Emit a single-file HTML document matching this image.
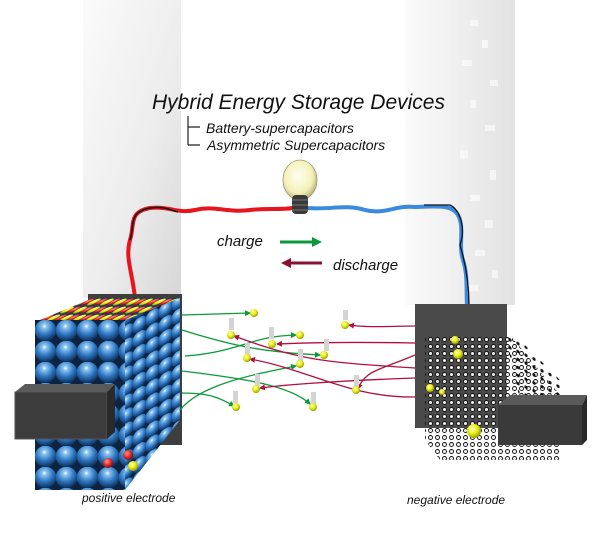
<!DOCTYPE html>
<html><head><meta charset="utf-8"><style>html,body{margin:0;padding:0;background:#fff}svg{display:block}</style></head>
<body>
<svg width="600" height="545" viewBox="0 0 600 545" xmlns="http://www.w3.org/2000/svg" font-family="Liberation Sans, sans-serif">
<defs>
<linearGradient id="lp" x1="0" y1="0" x2="1" y2="1"><stop offset="0" stop-color="#fbfbfb"/><stop offset="0.6" stop-color="#ececec"/><stop offset="1" stop-color="#d6d6d6"/></linearGradient>
<linearGradient id="rp" x1="1" y1="0" x2="0" y2="0"><stop offset="0" stop-color="#e2e2e2"/><stop offset="1" stop-color="#fbfbfb"/></linearGradient>
<radialGradient id="sph" cx="0.45" cy="0.3" r="0.7"><stop offset="0" stop-color="#fff"/><stop offset="0.15" stop-color="#8cc4f0"/><stop offset="0.55" stop-color="#2f78c4"/><stop offset="1" stop-color="#0b2c55"/></radialGradient>
<radialGradient id="yb" cx="0.4" cy="0.35" r="0.7"><stop offset="0" stop-color="#ffffc0"/><stop offset="0.5" stop-color="#e6ee10"/><stop offset="1" stop-color="#8a9000"/></radialGradient>
<radialGradient id="rb" cx="0.4" cy="0.35" r="0.7"><stop offset="0" stop-color="#ff9a90"/><stop offset="0.6" stop-color="#d82020"/><stop offset="1" stop-color="#701010"/></radialGradient>
<radialGradient id="bulb" cx="0.45" cy="0.4" r="0.6"><stop offset="0" stop-color="#fffff0"/><stop offset="0.7" stop-color="#f4f0b8"/><stop offset="1" stop-color="#b8b480"/></radialGradient>
<pattern id="front" x="35" y="320" width="21" height="21" patternUnits="userSpaceOnUse"><rect width="21" height="21" fill="#0d2340"/><circle cx="10.5" cy="10.5" r="10.8" fill="url(#sph)"/></pattern>
<pattern id="side" x="120" y="300" width="13" height="14" patternUnits="userSpaceOnUse" patternTransform="skewY(-30)"><rect width="13" height="14" fill="#0d2340"/><circle cx="6.5" cy="7" r="7.5" fill="url(#sph)"/></pattern>
<pattern id="top" x="35" y="298" width="13" height="8" patternUnits="userSpaceOnUse" patternTransform="skewX(-60)"><rect width="13" height="8" fill="#1a3a66"/><circle cx="3.5" cy="4" r="3.5" fill="url(#rb)"/><circle cx="10" cy="4" r="3.5" fill="url(#yb)"/></pattern>
<pattern id="dots" x="0" y="0" width="7" height="7" patternUnits="userSpaceOnUse"><circle cx="3.5" cy="3.5" r="2" fill="#eee" stroke="#111" stroke-width="0.9"/></pattern>
<pattern id="dots2" x="2" y="2" width="8" height="8" patternUnits="userSpaceOnUse" patternTransform="skewY(25)"><circle cx="4" cy="4" r="1.6" fill="#111"/></pattern>
<marker id="ag" markerUnits="userSpaceOnUse" markerWidth="6" markerHeight="6" refX="5" refY="3" orient="auto"><path d="M0,0 L6,3 L0,6z" fill="#0a9a3a"/></marker>
<marker id="ar" markerUnits="userSpaceOnUse" markerWidth="6" markerHeight="6" refX="5" refY="3" orient="auto"><path d="M0,0 L6,3 L0,6z" fill="#b01040"/></marker>
</defs>

<rect x="83" y="0" width="98" height="298" fill="url(#lp)"/>
<rect x="405" y="0" width="110" height="305" fill="url(#rp)"/>
<g fill="#fff" opacity="0.6">
<rect x="470" y="20" width="8" height="6"/><rect x="482" y="40" width="6" height="8"/><rect x="462" y="60" width="10" height="6"/><rect x="490" y="80" width="8" height="6"/><rect x="470" y="100" width="6" height="8"/><rect x="485" y="125" width="10" height="6"/><rect x="460" y="150" width="8" height="8"/><rect x="490" y="170" width="6" height="10"/><rect x="470" y="195" width="10" height="6"/><rect x="485" y="220" width="8" height="8"/><rect x="475" y="250" width="10" height="6"/><rect x="492" y="270" width="6" height="8"/><rect x="470" y="285" width="8" height="6"/>
</g>

<text x="152" y="109" font-size="21" font-style="italic" fill="#111">Hybrid Energy Storage Devices</text>
<path d="M188,116 V145 M188,127 H200 M188,145 H200" stroke="#222" stroke-width="1.2" fill="none"/>
<text x="206" y="133" font-size="14" font-style="italic" fill="#111">Battery-supercapacitors</text>
<text x="207" y="150" font-size="14" font-style="italic" fill="#111">Asymmetric Supercapacitors</text>

<path d="M135,298 C132,270 125,258 130,240 C135,225 128,212 150,208 C170,206 178,214 195,210 C215,205 225,213 250,210 C268,208 280,210 293,208" stroke="#e8141e" stroke-width="4" fill="none"/>
<path d="M130,240 C135,225 128,212 150,208 C165,206 170,210 178,212" stroke="#111" stroke-width="1.5" fill="none"/>
<path d="M307,208 C330,210 345,204 365,210 C385,215 395,205 415,207 C440,206 452,205 458,215 C465,228 458,245 463,260 C468,275 466,290 467,306" stroke="#3a8ae0" stroke-width="4" fill="none"/>
<path d="M424,205 L450,205 C460,210 466,228 460,245 C466,265 469,285 469,306" stroke="#111" stroke-width="1.3" fill="none"/>
<ellipse cx="300" cy="180" rx="17" ry="20" fill="url(#bulb)" stroke="#9a9670" stroke-width="0.8"/>
<rect x="292" y="195" width="16" height="19" rx="4" fill="#3a3a3a"/>
<path d="M292,200 H308 M292,205 H308 M292,210 H308" stroke="#777" stroke-width="1"/>

<text x="217" y="246" font-size="15" font-style="italic" fill="#111">charge</text>
<line x1="280" y1="242" x2="314" y2="242" stroke="#0a9a3a" stroke-width="3"/>
<path d="M312,237 L322,242 L312,247z" fill="#0a9a3a"/>
<line x1="322" y1="263" x2="290" y2="263" stroke="#8a1030" stroke-width="3"/>
<path d="M291,258 L281,263 L291,268z" fill="#8a1030"/>
<text x="333" y="270" font-size="15" font-style="italic" fill="#111">discharge</text>

<rect x="88" y="294" width="94" height="151" fill="#3e3e3e"/>
<polygon points="35,322 122,322 180,298 93,298" fill="url(#top)"/>
<polygon points="120,322 180,298 180,420 125,490" fill="url(#side)"/>
<rect x="35" y="320" width="90" height="170" fill="url(#front)"/>
<rect x="15" y="392" width="92" height="47" fill="#3c3c3c" stroke="#555"/>
<polygon points="15,392 25,384 115,384 107,392" fill="#5a5a5a"/>
<polygon points="107,392 115,384 115,432 107,439" fill="#2a2a2a"/>
<circle cx="128" cy="455" r="5" fill="url(#rb)"/><circle cx="133" cy="466" r="5" fill="url(#yb)"/><circle cx="108" cy="463" r="5" fill="url(#rb)"/>
<text x="82" y="502" font-size="12" font-style="italic" fill="#111">positive electrode</text>

<rect x="415" y="304" width="92" height="124" fill="#4a4a4a"/>
<polygon points="425,335 510,335 560,395 560,460 440,460 425,440" fill="url(#dots)"/>
<polygon points="505,335 520,340 560,380 565,405 520,400" fill="url(#dots2)"/>
<rect x="498" y="405" width="84" height="40" fill="#3a3a3a"/>
<polygon points="498,405 510,395 587,395 582,405" fill="#5a5a5a"/>
<polygon points="582,405 587,395 587,440 582,445" fill="#2a2a2a"/>
<circle cx="455" cy="340" r="4" fill="url(#yb)"/><circle cx="458" cy="354" r="5" fill="url(#yb)"/><circle cx="430" cy="388" r="4" fill="url(#yb)"/><circle cx="442" cy="392" r="3" fill="url(#yb)"/><circle cx="474" cy="431" r="7" fill="url(#yb)"/>
<text x="407" y="504" font-size="12" font-style="italic" fill="#111">negative electrode</text>

<g fill="none" stroke-width="1.3">
<path d="M182,315 L250,313" stroke="#0a9a3a" marker-end="url(#ag)"/>
<path d="M182,330 C230,345 260,352 320,355" stroke="#0a9a3a" marker-end="url(#ag)"/>
<path d="M185,356 C240,352 250,336 296,335" stroke="#0a9a3a" marker-end="url(#ag)"/>
<path d="M182,371 C240,378 290,385 310,404" stroke="#0a9a3a" marker-end="url(#ag)"/>
<path d="M182,393 C210,393 220,398 234,406" stroke="#0a9a3a" marker-end="url(#ag)"/>
<path d="M180,410 C200,385 250,375 296,366" stroke="#0a9a3a" marker-end="url(#ag)"/>
<path d="M415,326 C390,326 370,328 349,325" stroke="#b01040" marker-end="url(#ar)"/>
<path d="M415,343 C360,342 320,342 277,344" stroke="#b01040" marker-end="url(#ar)"/>
<path d="M415,368 C320,362 300,360 234,336" stroke="#b01040" marker-end="url(#ar)"/>
<path d="M415,397 C350,398 310,370 250,359" stroke="#b01040" marker-end="url(#ar)"/>
<path d="M415,378 C360,380 300,383 260,388" stroke="#b01040" marker-end="url(#ar)"/>
<path d="M415,355 C380,370 365,370 358,389" stroke="#b01040" marker-end="url(#ar)"/>
</g>
<g fill="#d4d4d4">
<rect x="229" y="318" width="5" height="12"/><rect x="269" y="327" width="5" height="12"/><rect x="245" y="343" width="5" height="12"/><rect x="324" y="339" width="5" height="12"/><rect x="298" y="349" width="5" height="12"/><rect x="255" y="374" width="5" height="12"/><rect x="233" y="391" width="5" height="12"/><rect x="311" y="392" width="5" height="12"/><rect x="354" y="375" width="5" height="12"/><rect x="343" y="310" width="5" height="10"/>
</g>
<g fill="url(#yb)">
<circle cx="254" cy="313" r="4"/><circle cx="231" cy="335" r="4"/><circle cx="300" cy="335" r="4"/><circle cx="272" cy="344" r="4"/><circle cx="324" cy="355" r="4"/><circle cx="247" cy="358" r="4"/><circle cx="300" cy="364" r="4"/><circle cx="256" cy="389" r="4"/><circle cx="236" cy="407" r="4"/><circle cx="313" cy="407" r="4"/><circle cx="345" cy="325" r="4"/><circle cx="356" cy="390" r="4"/>
</g>
</svg>
</body></html>
